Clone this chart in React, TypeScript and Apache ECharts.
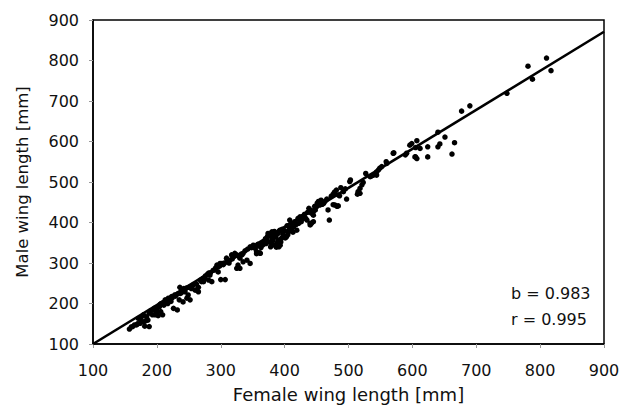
import React, { useEffect, useRef } from "react";
import * as echarts from "echarts";

const xTicks = [100, 200, 300, 400, 500, 600, 700, 800, 900];
const yTicks = [100, 200, 300, 400, 500, 600, 700, 800, 900];

const pointsLow: [number, number][] = [
  [157, 137], [160, 142], [162, 143], [165, 147], [168, 147], [170, 150], [174, 151], [176, 155],
  [180, 155], [181, 144], [183, 158], [186, 159], [188, 143], [179, 172], [184, 167], [188, 176],
  [193, 172], [194, 184], [197, 172], [199, 176], [200, 180], [202, 170], [204, 192], [206, 180],
  [207, 200], [209, 172], [211, 196], [213, 209], [217, 200], [218, 213], [222, 205], [223, 217],
  [226, 188], [228, 221], [232, 184], [235, 209], [236, 240], [239, 233], [240, 229], [241, 204],
  [242, 237], [244, 229], [247, 213], [249, 221], [252, 209], [254, 237], [257, 246], [260, 233],
  [265, 240], [265, 229], [270, 254], [273, 254], [275, 262], [281, 258], [281, 275], [283, 270],
  [286, 254], [291, 283], [294, 295], [296, 278], [297, 295], [299, 299], [300, 259], [302, 299],
  [307, 259], [171, 163], [175, 165], [178, 170], [190, 182], [196, 188], [201, 190], [205, 198],
  [210, 202], [214, 203], [219, 208], [224, 214], [229, 218], [233, 224], [237, 225], [243, 233],
  [246, 238], [250, 240], [255, 243], [262, 248], [268, 258], [272, 262], [276, 268], [279, 272],
  [284, 276], [288, 282], [292, 288], [295, 290], [298, 292], [304, 296], [306, 300], [310, 304],
];

const pointsMid: [number, number][] = [
  [309, 312], [314, 307], [317, 320], [322, 324], [325, 287], [325, 320], [327, 295], [330, 312],
  [330, 287], [333, 320], [335, 303], [335, 324], [341, 307], [346, 340], [346, 299], [351, 344],
  [354, 336], [356, 328], [356, 323], [361, 344], [361, 325], [362, 324], [367, 349], [372, 357],
  [374, 373], [380, 377], [382, 357], [385, 373], [387, 339], [388, 349], [390, 357], [393, 344],
  [393, 381], [395, 361], [398, 369], [403, 365], [406, 377], [408, 386], [408, 406], [414, 390],
  [419, 381], [424, 406], [424, 414], [429, 410], [435, 406], [440, 398], [440, 394], [440, 427],
  [442, 398], [442, 423], [445, 418], [445, 427], [445, 402], [448, 431], [450, 439], [455, 443],
  [455, 447], [461, 447], [468, 431], [470, 406], [479, 443], [484, 441], [481, 480], [484, 468],
  [313, 300], [318, 310], [320, 316], [323, 318], [328, 318], [332, 322], [338, 330], [342, 334],
  [348, 338], [352, 340], [358, 346], [360, 342], [363, 338], [366, 345], [368, 352], [370, 360],
  [371, 348], [373, 365], [376, 352], [377, 368], [378, 340], [380, 362], [380, 347], [382, 370],
  [383, 345], [384, 378], [386, 365], [389, 372], [391, 340], [392, 380], [394, 352], [396, 383],
  [397, 372], [400, 380], [401, 362], [404, 392], [405, 370], [407, 380], [410, 398], [411, 385],
  [413, 376], [416, 402], [418, 395], [421, 410], [422, 398], [426, 402], [428, 415], [431, 420],
  [433, 410], [436, 425], [438, 435], [441, 430], [447, 440], [451, 448], [453, 452], [457, 455],
  [459, 445], [463, 452], [466, 458], [473, 465], [476, 470], [478, 475], [488, 486], [486, 466],
  [482, 440], [476, 444],
];

const pointsHigh: [number, number][] = [
  [492, 476], [495, 483], [497, 458], [502, 501], [503, 505], [514, 470], [515, 476], [518, 484],
  [518, 472], [521, 493], [523, 499], [527, 521], [534, 513], [536, 515], [539, 517], [544, 525],
  [544, 517], [547, 530], [549, 534], [552, 538], [559, 550], [560, 546], [570, 571], [571, 572],
  [589, 567], [591, 571], [596, 591], [599, 595], [604, 562], [605, 562], [607, 558], [607, 602],
  [612, 583], [605, 585], [624, 587], [624, 562], [640, 587], [643, 594], [640, 623], [651, 611],
  [662, 569], [666, 597], [677, 675], [690, 688], [748, 719], [781, 786], [788, 754], [810, 806],
  [817, 775],
];

const fitLine: [number, number][] = [
  [100, 100],
  [900, 871],
];

const statLabels = ["b = 0.983", "r = 0.995"];
const xTitle = "Female wing length [mm]";
const yTitle = "Male wing length [mm]";

const FONT = "DejaVu Sans";

export default function App() {
  const ref = useRef<HTMLDivElement>(null);
  useEffect(() => {
    if (!ref.current) return;
    const chart = echarts.init(ref.current, undefined, { renderer: "svg" });
    const axisCommon = {
      type: "value" as const,
      min: 100,
      max: 900,
      interval: 100,
      nameLocation: "middle" as const,
      axisLine: { show: true, onZero: false, lineStyle: { color: "#000", width: 1.5 } },
      axisTick: { show: true, inside: false, length: 4, lineStyle: { color: "#999", width: 1 } },
      splitLine: { show: false },
      nameTextStyle: { color: "#111", fontFamily: FONT },
    };
    chart.setOption({
      animation: false,
      backgroundColor: "#fff",
      grid: {
        left: 93,
        right: 15,
        top: 20,
        bottom: 67,
        containLabel: false,
        outerBoundsMode: "none",
        show: true,
        borderColor: "#000",
        borderWidth: 1.5,
      },
      xAxis: {
        ...axisCommon,
        name: xTitle,
        nameGap: 41,
        nameTextStyle: { ...axisCommon.nameTextStyle, fontSize: 18 },
        axisLabel: {
          margin: 18,
          color: "#111",
          fontSize: 16,
          fontFamily: FONT,
          formatter: (v: number) => (xTicks.includes(v) ? String(v) : ""),
        },
      },
      yAxis: {
        ...axisCommon,
        name: yTitle,
        nameGap: 62,
        nameRotate: 90,
        nameTextStyle: { ...axisCommon.nameTextStyle, fontSize: 16.5 },
        axisLabel: {
          margin: 14,
          color: "#111",
          fontSize: 16,
          fontFamily: FONT,
          formatter: (v: number) => (yTicks.includes(v) ? String(v) : ""),
        },
      },
      graphic: [
        {
          type: "text",
          left: 511,
          top: 285,
          style: { text: statLabels[0], fontSize: 16, fontFamily: FONT, fill: "#111" },
        },
        {
          type: "text",
          left: 511,
          top: 311,
          style: { text: statLabels[1], fontSize: 16, fontFamily: FONT, fill: "#111" },
        },
      ],
      series: [
        {
          type: "scatter",
          data: [...pointsLow, ...pointsMid, ...pointsHigh],
          symbol: "circle",
          symbolSize: 5.5,
          itemStyle: { color: "#000", opacity: 1 },
          z: 2,
        },
        {
          type: "line",
          data: fitLine,
          symbol: "none",
          lineStyle: { color: "#000", width: 2.6 },
          z: 3,
        },
      ],
    });
    return () => chart.dispose();
  }, []);
  return (
    <div
      ref={ref}
      style={{ position: "fixed", left: 0, top: 0, width: 619, height: 411, background: "#fff" }}
    />
  );
}
